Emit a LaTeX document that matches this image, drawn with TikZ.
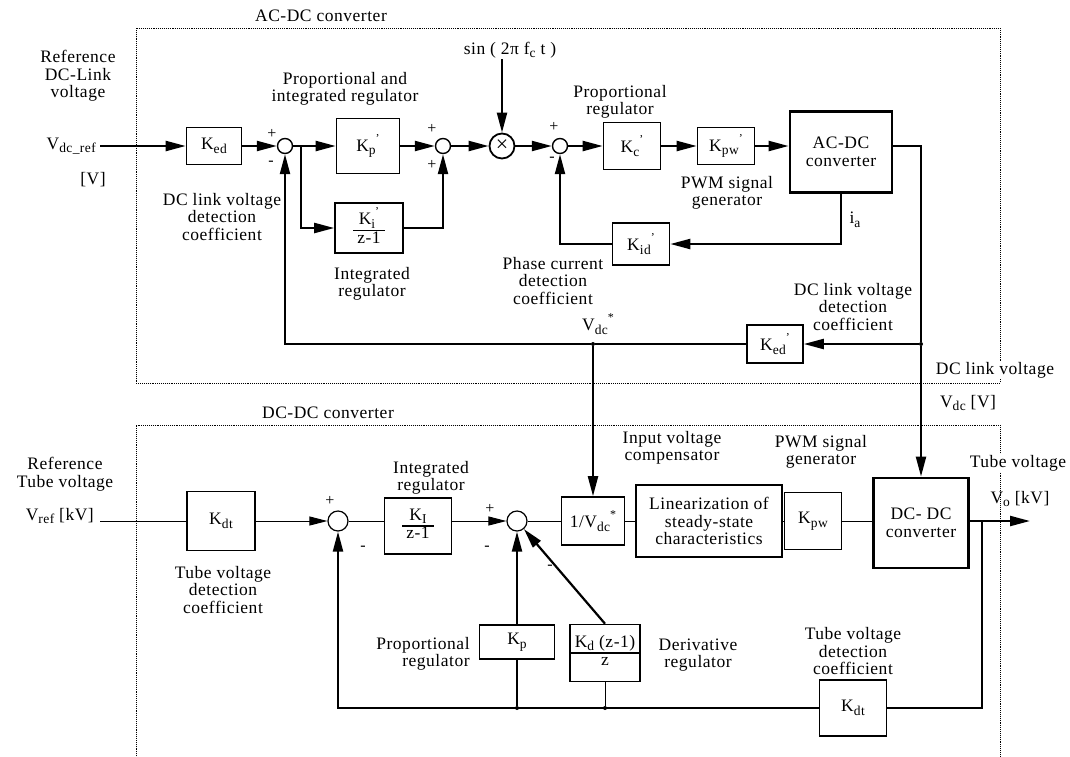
\documentclass[tikz,border=0pt]{standalone}
\usepackage{fontspec}
\setmainfont{Liberation Serif}[LetterSpace=3]
\usetikzlibrary{arrows.meta}
\setlength\arrayrulewidth{1.3pt}
\newcommand\subs[1]{\raisebox{-0.45ex}{\fontsize{13.5}{13.5}\selectfont #1}}
\newcommand\sups[1]{\raisebox{1.1ex}{\fontsize{12}{12}\selectfont #1}}
\newcommand\frc[2]{\begin{tabular}{@{\hspace{4pt}}c@{\hspace{4pt}}}#1\\\hline #2\end{tabular}}

\begin{document}
\begin{tikzpicture}[x=1pt, y=-1pt,
    font=\fontsize{17.5}{17.5}\selectfont,
    block/.style={draw, line width=1.6pt, inner sep=1pt, align=center},
    conv/.style={draw, line width=2.8pt, inner sep=1pt, align=center},
    sum/.style={circle, draw, line width=1.4pt, inner sep=0pt, minimum size=15pt},
    bigsum/.style={circle, draw, line width=1.2pt, inner sep=0pt, minimum size=20pt},
    arrow/.style={-{Triangle[length=20pt, width=10pt]}, line width=2.2pt},
    thinarrow/.style={-{Triangle[length=18pt, width=9pt]}, line width=1pt},
    wire/.style={line width=2.2pt},
    thinwire/.style={line width=1pt},
    frame/.style={densely dotted, line width=0.9pt},
    label/.style={align=center, inner sep=1pt},
    sign/.style={font=\fontsize{16}{16}\selectfont, inner sep=0pt},
    dot/.style={circle, fill, inner sep=0pt, minimum size=4pt}
]
    \useasboundingbox (0,0) rectangle (1070,756);

    % Frames
    \draw[frame] (136,28) rectangle (1000,383);
    \draw[frame] (136,756) -- (136,425) -- (1000,425) -- (1000,756);
    \node[label] (acdcttl) at (321,16) {AC-DC converter};
    \node[label] (dcdcttl) at (328,413) {DC-DC converter};

    % AC-DC converter nodes
    \node[label] (refdc) at (78,76) {Reference\\DC-Link\\voltage};
    \node[label, anchor=east] (vdcref) at (97,146) {V\subs{dc\_ref}};
    \node[label] (vunit) at (93,180) {[V]};
    \coordinate (vin1) at (100,146);
    \node[block, minimum width=55pt, minimum height=37pt] (ked1) at (214,146) {K\subs{ed}};
    \node[label] (ked1txt) at (222,217) {DC link voltage\\detection\\coefficient};
    \node[sum] (sum1) at (285,146) {};
    \coordinate (br1) at (301,146);
    \node[block, minimum width=63pt, minimum height=55pt] (kp1) at (368,146) {K\subs{p}\sups{'}};
    \node[label] (kp1txt) at (345,89) {Proportional and\\integrated regulator};
    \node[block, minimum width=68pt, minimum height=50pt] (ki1) at (369,228) {\frc{K\subs{i}\sups{'}}{z-1}};
    \node[label] (ki1txt) at (372,284) {Integrated\\regulator};
    \node[sum] (sum2) at (443,146) {};
    \node[circle, draw, line width=1.8pt, minimum size=25pt, inner sep=0pt,
        font=\fontsize{22}{22}\selectfont] (mult) at (502,146) {×};
    \node[label] (sinsrc) at (510,50) {sin ( 2π f\subs{c} t )};
    \node[sum] (sum3) at (560,146) {};
    \node[block, minimum width=57pt, minimum height=47pt] (kc) at (632,146) {K\subs{c}\sups{'}};
    \node[label] (kctxt) at (620,102) {Proportional\\regulator};
    \node[block, minimum width=57pt, minimum height=37pt] (kpw1) at (726,146) {K\subs{pw}\sups{'}};
    \node[label] (kpw1txt) at (727,193) {PWM signal\\generator};
    \node[conv, minimum width=102pt, minimum height=81pt] (acdc) at (841,152) {AC-DC\\converter};
    \node[label] (ialbl) at (855,220) {i\subs{a}};
    \node[block, minimum width=57pt, minimum height=42pt] (kid) at (641,244) {K\subs{id}\sups{'}};
    \node[label] (kidtxt) at (553,281) {Phase current\\detection\\coefficient};
    \node[block, minimum width=56pt, minimum height=38pt] (ked2) at (775,344) {K\subs{ed}\sups{'}};
    \node[label] (ked2txt) at (853,307) {DC link voltage\\detection\\coefficient};
    \node[dot] (dotA) at (593,344) {};
    \node[label] (vdcstar) at (598,324) {V\subs{dc}\sups{*}};
    \node[dot] (dotB) at (921,344) {};
    \coordinate (c1) at (921,146);
    \node[label, fill=white] (dclink) at (995,370) {DC link voltage};
    \node[label] (vdclbl) at (968,403) {V\subs{dc} [V]};

    % DC-DC converter nodes
    \node[label] (reftube) at (65,474) {Reference\\Tube voltage};
    \node[label, anchor=east] (vreflbl) at (95,516) {V\subs{ref} [kV]};
    \coordinate (vin2) at (100,521);
    \node[block, minimum width=68pt, minimum height=59pt] (kdt1) at (221,521) {K\subs{dt}};
    \node[label] (kdt1txt) at (223,590) {Tube voltage\\detection\\coefficient};
    \node[bigsum] (sum4) at (338,521) {};
    \node[block, minimum width=67pt, minimum height=56pt] (kI) at (418,526) {\frc{K\subs{I}}{z-1}};
    \node[label] (kItxt) at (431,478) {Integrated\\regulator};
    \node[bigsum] (sum5) at (517,521) {};
    \node[block, minimum width=63pt, minimum height=48pt] (vdcb) at (593,521) {1/V\subs{dc}\sups{*}};
    \node[label] (vdcbtxt) at (672,448) {Input voltage\\compensator};
    \node[block, line width=2pt, minimum width=146pt, minimum height=72pt] (lin) at (709,521)
        {Linearization of\\steady-state\\characteristics};
    \node[block, minimum width=57pt, minimum height=57pt] (kpw2) at (813,521) {K\subs{pw}};
    \node[label] (kpw2txt) at (821,452) {PWM signal\\generator};
    \node[conv, minimum width=95pt, minimum height=90pt] (dcdc) at (921,523) {DC- DC\\converter};
    \coordinate (br2) at (982,521);
    \coordinate (vout) at (1030,521);
    \node[label, fill=white] (tubev) at (1018,463) {Tube voltage};
    \node[label] (voutlbl) at (1020,499) {V\subs{o} [kV]};
    \node[block, minimum width=75pt, minimum height=34pt] (kp2) at (517,642) {K\subs{p}};
    \node[label, align=right] (kp2txt) at (423,654) {Proportional\\regulator};
    \node[block, minimum width=70pt, minimum height=57pt] (kd) at (605,653) {\frc{K\subs{d} (z-1)}{z}};
    \node[label] (kdtxt) at (698,655) {Derivative\\regulator};
    \node[block, minimum width=67pt, minimum height=56pt] (kdt2) at (853,708) {K\subs{dt}};
    \node[label] (kdt2txt) at (853,651) {Tube voltage\\detection\\coefficient};
    \node[dot] (tp) at (517,708) {};
    \node[dot] (td) at (605,708) {};

    % Signs
    \node[sign] (s1) at (272,134) {+};
    \node[sign] (s2) at (271,163) {-};
    \node[sign] (s3) at (432,129) {+};
    \node[sign] (s4) at (432,165) {+};
    \node[sign] (s5) at (554,127) {+};
    \node[sign] (s6) at (552,159) {-};
    \node[sign] (s7) at (330,501) {+};
    \node[sign] (s8) at (363,548) {-};
    \node[sign] (s9) at (490,509) {+};
    \node[sign] (s10) at (487,548) {-};
    \node[sign] (s11) at (550,567) {-};

    % AC-DC loop
    \draw[arrow] (vin1) -- (ked1);
    \draw[arrow] (ked1) -- (sum1);
    \draw[arrow] (sum1) -- (kp1);
    \draw[arrow] (br1) |- (ki1);
    \draw[arrow] (kp1) -- (sum2);
    \draw[arrow] (ki1) -| (sum2);
    \draw[arrow] (sum2) -- (mult);
    \draw[arrow] (mult |- sinsrc.south) -- (mult);
    \draw[arrow] (mult) -- (sum3);
    \draw[arrow] (sum3) -- (kc);
    \draw[arrow] (kc) -- (kpw1);
    \draw[arrow] (kpw1) -- (kpw1 -| acdc.west);
    \draw[wire] (acdc.east |- c1) -- (c1) -- (dotB);
    \draw[arrow] (acdc) |- (kid);
    \draw[arrow] (kid) -| (sum3);
    \draw[arrow] (dotB) -- (ked2);
    \draw[arrow] (ked2) -- (dotA) -| (sum1);
    \draw[arrow] (dotA) -- (vdcb);
    \draw[arrow] (dotB) -- (dcdc);

    % DC-DC loop
    \draw[thinwire] (vin2) -- (kdt1);
    \draw[thinarrow] (kdt1) -- (sum4);
    \draw[thinwire] (sum4) -- (sum4 -| kI.west);
    \draw[thinarrow] (sum4 -| kI.east) -- (sum5);
    \draw[thinwire] (sum5) -- (vdcb);
    \draw[thinwire] (vdcb) -- (lin);
    \draw[thinwire] (lin) -- (kpw2);
    \draw[thinwire] (kpw2) -- (kpw2 -| dcdc.west);
    \draw[arrow] (dcdc.east |- vout) -- (vout);
    \draw[wire] (br2) |- (kdt2);
    \draw[arrow] (kdt2) -| (sum4);
    \draw[wire] (tp) -- (kp2);
    \draw[arrow] (kp2) -- (sum5);
    \draw[thinwire] (td) -- (kd);
    \draw[arrow] (kd.north) -- (sum5);
\end{tikzpicture}
\end{document}
